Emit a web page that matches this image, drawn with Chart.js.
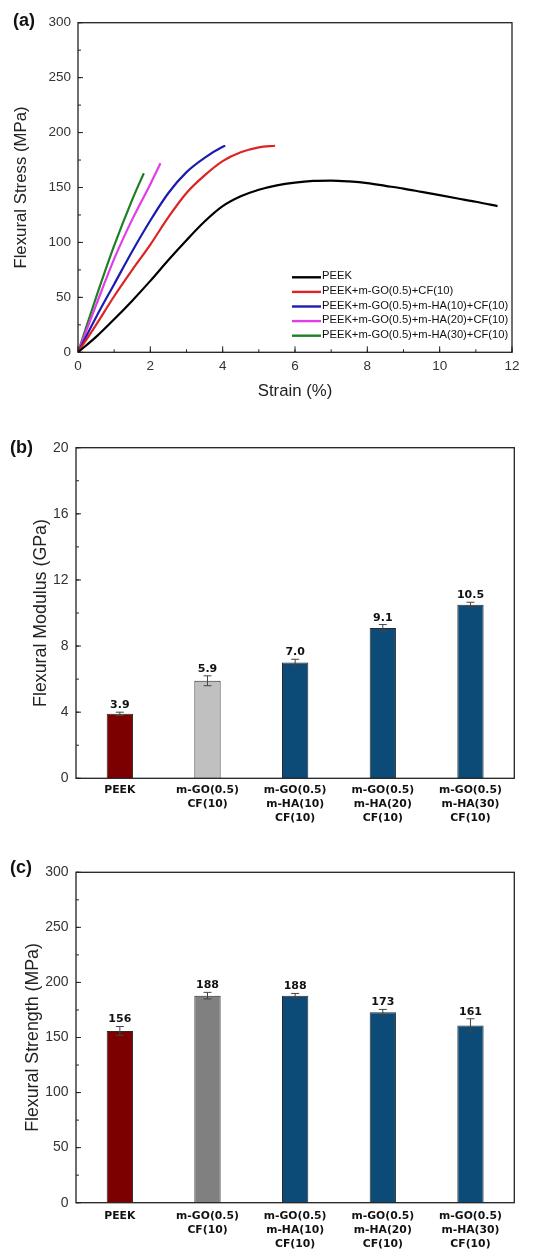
<!DOCTYPE html>
<html>
<head>
<meta charset="utf-8">
<script src="https://cdn.jsdelivr.net/npm/chart.js@4.4.1/dist/chart.umd.min.js"></script>
<style>
  body { margin: 0; background: #fff; }
  #wrap { position: relative; width: 538px; height: 1255px; overflow: hidden; }
  canvas { position: absolute; left: 0; }
  .tag { position: absolute; font: bold 18px "Liberation Sans", Arial, sans-serif; color: #111; line-height: 20px; }
</style>
</head>
<body>
<div id="wrap">
  <canvas id="stress" width="538" height="410" style="top:0"></canvas>
  <canvas id="modulus" width="538" height="430" style="top:400px"></canvas>
  <canvas id="strength" width="538" height="425" style="top:830px"></canvas>
  <div class="tag" style="left:13px;top:10px">(a)</div>
  <div class="tag" style="left:10px;top:437px">(b)</div>
  <div class="tag" style="left:10px;top:857px">(c)</div>
</div>
<script>
// stress-strain curves (strain %, stress MPa)
var peekStrain = [0, 0.5, 1, 1.5, 2, 2.5, 3, 3.5, 4, 4.5, 5, 5.5, 6, 6.5, 7, 7.5, 8, 8.5, 9, 9.5, 10, 10.5, 11, 11.6];
var peekStress = [0, 14, 30, 47, 65, 84, 102, 119, 133, 142, 148, 152, 154.5, 156, 156.3, 155.5, 154, 151.5, 149, 146, 143, 140, 137, 133];
var cfStrain = [0, 0.5, 1, 1.5, 2, 2.5, 3, 3.5, 4, 4.5, 5, 5.45];
var cfStress = [0, 25, 51, 75, 98, 123, 145, 161, 174, 182, 186.5, 188];
var ha10Strain = [0, 0.5, 1, 1.5, 2, 2.5, 3, 3.5, 4, 4.07];
var ha10Stress = [0, 32, 62, 92, 120, 145, 164, 177, 187, 188];
var ha20Strain = [0, 0.5, 1, 1.5, 2, 2.28];
var ha20Stress = [0, 43, 85, 121, 153, 172];
var ha30Strain = [0, 0.5, 1, 1.5, 1.82];
var ha30Stress = [0, 50, 97, 139, 163];

var curveLabels = ['PEEK', 'PEEK+m-GO(0.5)+CF(10)', 'PEEK+m-GO(0.5)+m-HA(10)+CF(10)',
                   'PEEK+m-GO(0.5)+m-HA(20)+CF(10)', 'PEEK+m-GO(0.5)+m-HA(30)+CF(10)'];
var curveColors = ['#000000', '#dd2424', '#1c1cb0', '#e23de6', '#1f7f24'];

// bar charts
var barLabels = [['PEEK'], ['m-GO(0.5)', 'CF(10)'], ['m-GO(0.5)', 'm-HA(10)', 'CF(10)'],
                 ['m-GO(0.5)', 'm-HA(20)', 'CF(10)'], ['m-GO(0.5)', 'm-HA(30)', 'CF(10)']];
var modulus = [3.9, 5.9, 7.0, 9.1, 10.5];
var modulusErr = [0.1, 0.3, 0.2, 0.2, 0.15];
var strength = [156, 188, 188, 173, 161];
var strengthErr = [4, 3, 2, 2.5, 6];
var modulusColors = ['#7d0000', '#c0c0c0', '#0c4a77', '#0c4a77', '#0c4a77'];
var strengthColors = ['#7d0000', '#808080', '#0c4a77', '#0c4a77', '#0c4a77'];

Chart.defaults.font.family = '"Liberation Sans", Arial, sans-serif';
Chart.defaults.animation = false;

// box around the plot area + inward tick marks
var frameTicks = {
    id: 'frameTicks',
    afterDatasetsDraw: function(chart, args, opts) {
        var ctx = chart.ctx, a = chart.chartArea;
        ctx.save();
        ctx.strokeStyle = '#222';
        ctx.lineWidth = 1.3;
        ctx.strokeRect(a.left, a.top, a.right - a.left, a.bottom - a.top);
        ctx.lineWidth = 1;
        (opts.marks || []).forEach(function(m) {
            var s = chart.scales[m.axis];
            for (var v = s.min; v <= s.max + 1e-9; v += m.step) {
                var p = s.getPixelForValue(v);
                ctx.beginPath();
                if (m.axis === 'y') { ctx.moveTo(a.left, p); ctx.lineTo(a.left + m.len, p); }
                else { ctx.moveTo(p, a.bottom); ctx.lineTo(p, a.bottom - m.len); }
                ctx.stroke();
            }
        });
        ctx.restore();
    }
};

// legend in the lower right corner of the curve plot
var curveLegend = {
    id: 'curveLegend',
    afterDatasetsDraw: function(chart, args, o) {
        if (!o.x0) return;
        var ctx = chart.ctx;
        ctx.save();
        ctx.font = '11.2px "Liberation Sans", Arial, sans-serif';
        ctx.textBaseline = 'middle';
        chart.data.datasets.forEach(function(ds, i) {
            var y = o.top + i * o.gap;
            ctx.strokeStyle = ds.borderColor;
            ctx.lineWidth = 2.4;
            ctx.beginPath(); ctx.moveTo(o.x0, y); ctx.lineTo(o.x1, y); ctx.stroke();
            ctx.fillStyle = '#111';
            ctx.fillText(ds.label, o.x1 + 1, y - 1);
        });
        ctx.restore();
    }
};

// error bars and value labels on top of the bars
var barExtras = {
    id: 'barExtras',
    afterDatasetsDraw: function(chart, args, o) {
        if (!o.errors) return;
        var ctx = chart.ctx, ys = chart.scales.y;
        var ds = chart.data.datasets[0];
        ctx.save();
        chart.getDatasetMeta(0).data.forEach(function(bar, i) {
            var v = ds.data[i], e = o.errors[i];
            var top = ys.getPixelForValue(v + e), bot = ys.getPixelForValue(v - e);
            ctx.strokeStyle = '#444';
            ctx.lineWidth = 1;
            ctx.beginPath();
            ctx.moveTo(bar.x, top); ctx.lineTo(bar.x, bot);
            ctx.moveTo(bar.x - 4, top); ctx.lineTo(bar.x + 4, top);
            ctx.moveTo(bar.x - 4, bot); ctx.lineTo(bar.x + 4, bot);
            ctx.stroke();
            ctx.fillStyle = '#111';
            ctx.font = 'bold 11px "DejaVu Sans", Verdana, sans-serif';
            ctx.textAlign = 'center';
            ctx.textBaseline = 'alphabetic';
            ctx.fillText(o.format(v), bar.x, top - 4);
        });
        ctx.restore();
    }
};

Chart.register(frameTicks, curveLegend, barExtras);

function points(xs, ys) {
    return xs.map(function(x, i) { return { x: x, y: ys[i] }; });
}

var curveData = [points(peekStrain, peekStress), points(cfStrain, cfStress), points(ha10Strain, ha10Stress),
                 points(ha20Strain, ha20Stress), points(ha30Strain, ha30Stress)];

new Chart(document.getElementById('stress'), {
    type: 'line',
    data: {
        datasets: curveData.map(function(d, i) {
            return {
                label: curveLabels[i], data: d, borderColor: curveColors[i], borderWidth: 2.2,
                pointRadius: 0, cubicInterpolationMode: 'monotone', fill: false
            };
        })
    },
    options: {
        responsive: false,
        layout: { padding: { left: 0, right: 26, top: 22.7, bottom: 0 } },
        plugins: {
            legend: { display: false },
            tooltip: { enabled: false },
            frameTicks: { marks: [{ axis: 'y', step: 50, len: 5 }, { axis: 'y', step: 25, len: 3 },
                                  { axis: 'x', step: 2, len: 6 }, { axis: 'x', step: 1, len: 3 }] },
            curveLegend: { x0: 292, x1: 321, top: 277.3, gap: 14.6 }
        },
        scales: {
            x: {
                type: 'linear', min: 0, max: 12,
                grid: { display: false, drawTicks: false }, border: { display: false },
                ticks: { stepSize: 2, padding: 6, color: '#333', font: { size: 13.5 } },
                title: { display: true, text: 'Strain (%)', color: '#222', font: { size: 16.8 }, padding: { top: 0, bottom: 9 } },
                afterFit: function(s) { s.height = 57.7; }
            },
            y: {
                min: 0, max: 300,
                grid: { display: false, drawTicks: false }, border: { display: false },
                ticks: { stepSize: 50, padding: 7, color: '#333', font: { size: 13.5 } },
                title: { display: true, text: 'Flexural Stress (MPa)', color: '#222', font: { size: 16.8 }, padding: { top: 10.9, bottom: 0 } },
                afterFit: function(s) { s.width = 78; }
            }
        }
    }
});

function barChart(id, values, errors, colors, g) {
    return new Chart(document.getElementById(id), {
        type: 'bar',
        data: {
            labels: barLabels,
            datasets: [{
                data: values, backgroundColor: colors, borderColor: '#2a2a2a', borderWidth: 1,
                barPercentage: 0.3, categoryPercentage: 1
            }]
        },
        options: {
            responsive: false,
            layout: { padding: { left: 0, right: 23.7, top: g.top, bottom: 0 } },
            plugins: {
                legend: { display: false },
                tooltip: { enabled: false },
                frameTicks: { marks: [{ axis: 'y', step: g.step, len: 5 }, { axis: 'y', step: g.step / 2, len: 3 }] },
                barExtras: { errors: errors, format: g.format }
            },
            scales: {
                x: {
                    grid: { display: false, drawTicks: false }, border: { display: false },
                    ticks: { padding: g.labelPad, color: '#111', font: { family: '"DejaVu Sans", Verdana, sans-serif', weight: 'bold', size: 10.8, lineHeight: 1.27 } },
                    afterFit: function(s) { s.height = g.xHeight; }
                },
                y: {
                    min: 0, max: g.max,
                    grid: { display: false, drawTicks: false }, border: { display: false },
                    ticks: { stepSize: g.step, padding: 7.5, color: '#333', font: { size: 14 } },
                    title: { display: true, text: g.title, color: '#222', font: { size: 17.8 }, padding: { top: g.titlePad, bottom: 0 } },
                    afterFit: function(s) { s.width = 76; }
                }
            }
        }
    });
}

barChart('modulus', modulus, modulusErr, modulusColors, {
    top: 47.7, xHeight: 51.7, max: 20, step: 4, labelPad: 5.5, titlePad: 30.1,
    title: 'Flexural Modulus (GPa)', format: function(v) { return v.toFixed(1); }
});

barChart('strength', strength, strengthErr, strengthColors, {
    top: 42.3, xHeight: 52.3, max: 300, step: 50, labelPad: 7, titlePad: 22.6,
    title: 'Flexural Strength (MPa)', format: function(v) { return String(v); }
});
</script>
</body>
</html>
